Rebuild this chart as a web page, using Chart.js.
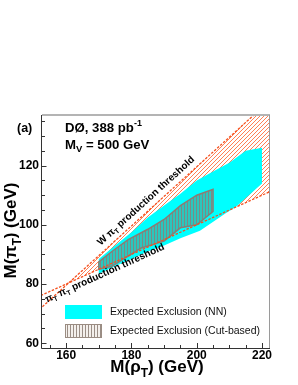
<!DOCTYPE html>
<html>
<head>
<meta charset="utf-8">
<script src="https://cdn.jsdelivr.net/npm/chart.js@4.4.0/dist/chart.umd.min.js"></script>
<style>
  html, body { margin: 0; padding: 0; background: #fff; }
  canvas { display: block; }
</style>
</head>
<body>
<canvas id="c" width="298" height="385"></canvas>
<script>
// axis ranges, GeV
const rhoRange = [152.6, 222.45];
const piRange = [58.4, 137.1];
const xTicks = [160, 180, 200, 220];
const yTicks = [60, 80, 100, 120];

// Expected exclusion (NN): upper edge then lower edge
const nnUpRho = [170, 175, 180, 185, 190, 195, 200, 205, 210, 215, 220];
const nnUpPi  = [88.5, 93, 97.5, 102.5, 106.5, 110.5, 115, 118, 121, 125, 126];
const nnLoRho = [220, 212, 209, 201, 195, 190, 185, 180, 175, 170];
const nnLoPi  = [114, 106, 104, 98, 95.5, 93, 91, 88.5, 86, 83.5];

// Expected exclusion (cut-based)
const cutUpRho = [170, 174, 179, 185, 190, 195, 200, 205];
const cutUpPi  = [87.5, 91, 95, 98.5, 101.8, 106.5, 110, 112];
const cutLoRho = [205, 200, 195, 190, 183, 179, 174, 170];
const cutLoPi  = [104.5, 100, 99, 94.5, 92.2, 89.4, 86, 85];

// production thresholds
const wThrRho = [150, 225];
const wThrPi  = [69.6, 144.6];
const ppThrRho = [150, 225];
const ppThrPi  = [75, 112.5];
// band between the two thresholds
const bandRho = [160.8, 225, 225];
const bandPi  = [80.4, 144.6, 112.5];

const FONT = '"Liberation Sans", Arial, Helvetica, sans-serif';
const canvas = document.getElementById('c');
const ctx0 = canvas.getContext('2d');

// pixel-exact hatch tiles (no antialiasing)
function hatch(color, size, diag, bg) {
  const c = document.createElement('canvas');
  c.width = size; c.height = size;
  const g = c.getContext('2d');
  if (bg) { g.fillStyle = bg; g.fillRect(0, 0, size, size); }
  g.fillStyle = color;
  for (let i = 0; i < size; i++) {
    if (diag) g.fillRect(i, size - 1 - i, 1, 1);
    else g.fillRect(1, i, 1, 1);
  }
  return ctx0.createPattern(c, 'repeat');
}
const redHatch = hatch('#ff8055', 4, true);
// cut-based hatch as it looks over the cyan NN area
const cutHatch = hatch('#7a8a86', 3, false, '#2cc6bd');
// legend swatch: same hatch on white
const cutHatchKey = hatch('#9a8e86', 3, false, '#f4f0ec');

const pts = (xs, ys) => xs.map((x, i) => ({ x: x, y: ys[i] }));
function ring(ux, uy, lx, ly) {
  const p = pts(ux, uy).concat(pts(lx, ly));
  p.push(p[0]);
  return p;
}

// text with sub/superscripts: parts = [text, size, yshift]
function rich(ctx, parts, x, y, weight, align) {
  let w = 0;
  parts.forEach(p => { ctx.font = `${weight} ${p[1]}px ${FONT}`; w += ctx.measureText(p[0]).width; });
  let cx = align === 'center' ? x - w / 2 : x;
  ctx.textAlign = 'left';
  ctx.textBaseline = 'alphabetic';
  parts.forEach(p => {
    ctx.font = `${weight} ${p[1]}px ${FONT}`;
    ctx.fillText(p[0], cx, y + (p[2] || 0));
    cx += ctx.measureText(p[0]).width;
  });
}

function alongLine(chart, xs, ys, rhoAt, parts, offset) {
  const sx = chart.scales.x, sy = chart.scales.y, ctx = chart.ctx;
  const x0 = sx.getPixelForValue(xs[0]), y0 = sy.getPixelForValue(ys[0]);
  const x1 = sx.getPixelForValue(xs[1]), y1 = sy.getPixelForValue(ys[1]);
  const ang = Math.atan2(y1 - y0, x1 - x0);
  const t = (rhoAt - xs[0]) / (xs[1] - xs[0]);
  ctx.save();
  ctx.translate(x0 + (x1 - x0) * t, y0 + (y1 - y0) * t);
  ctx.rotate(ang);
  ctx.fillStyle = '#000';
  rich(ctx, parts, 0, offset, 'bold');
  ctx.restore();
}

const decor = {
  id: 'decor',
  afterDatasetsDraw(chart) {
    const ctx = chart.ctx, a = chart.chartArea;
    const sx = chart.scales.x, sy = chart.scales.y;
    ctx.save();

    // frame
    ctx.strokeStyle = '#b4b4b4'; ctx.lineWidth = 2;
    ctx.beginPath(); ctx.moveTo(a.left, a.top); ctx.lineTo(a.right, a.top); ctx.stroke();
    ctx.strokeStyle = '#9a9a9a'; ctx.lineWidth = 1;
    ctx.beginPath(); ctx.moveTo(a.right - 0.5, a.top); ctx.lineTo(a.right - 0.5, a.bottom); ctx.stroke();
    ctx.strokeStyle = '#333';
    ctx.beginPath();
    ctx.moveTo(a.left - 0.5, a.top); ctx.lineTo(a.left - 0.5, a.bottom + 0.5);
    ctx.lineTo(a.right, a.bottom + 0.5);
    ctx.stroke();

    // ticks pointing inward
    ctx.beginPath();
    for (let v = 155; v <= 220; v += 5) {
      const px = Math.round(sx.getPixelForValue(v)) + 0.5;
      const len = xTicks.includes(v) ? 5 : 3;
      ctx.moveTo(px, a.bottom); ctx.lineTo(px, a.bottom - len);
    }
    for (let v = 60; v <= 135; v += 5) {
      const py = Math.round(sy.getPixelForValue(v)) + 0.5;
      const len = yTicks.includes(v) ? 4.5 : 3;
      ctx.moveTo(a.left, py); ctx.lineTo(a.left + len, py);
    }
    ctx.stroke();

    ctx.fillStyle = '#000';
    // axis titles
    rich(ctx, [['M(', 17], ['\u03C1', 17], ['T', 12, 5], [') (GeV)', 17]], (a.left + a.right) / 2 + 1, 372, 'bold', 'center');
    ctx.save();
    ctx.translate(16, (a.top + a.bottom) / 2 - 1);
    ctx.rotate(-Math.PI / 2);
    rich(ctx, [['M(', 17], ['\u03C0', 17], ['T', 12, 5], [') (GeV)', 17]], 0, 0, 'bold', 'center');
    ctx.restore();

    // annotations
    rich(ctx, [['(a)', 12.5]], 17, 132, 'bold');
    rich(ctx, [['D\u00D8, 388 pb', 13.2], ['-1', 9, -5.5]], 65, 131.5, 'bold');
    rich(ctx, [['M', 13.2], ['V', 9.5, 3.5], [' = 500 GeV', 13.2]], 65, 148.5, 'bold');

    // threshold labels
    alongLine(chart, wThrRho, wThrPi, 171.8,
      [['W ', 10], ['\u03C0', 10], ['T', 7, 2.5], [' production threshold', 10]], -6);
    alongLine(chart, ppThrRho, ppThrPi, 152.9,
      [['\u03C0', 10], ['T', 7, 2.5], [' \u03C0', 10], ['T', 7, 2.5], [' production threshold', 10]], 9);

    // legend
    const lx = a.left + 23;
    ctx.fillStyle = '#00ffff';
    ctx.fillRect(lx, 305, 37, 14);
    ctx.fillStyle = cutHatchKey;
    ctx.fillRect(lx, 324, 37, 14);
    ctx.strokeStyle = '#9a8c82'; ctx.lineWidth = 1;
    ctx.strokeRect(lx + 0.5, 324.5, 36, 13);
    ctx.fillStyle = '#111';
    ctx.font = `10.5px ${FONT}`;
    ctx.textAlign = 'left'; ctx.textBaseline = 'middle';
    ctx.fillText('Expected Exclusion (NN)', 110, 312.5);
    ctx.fillText('Expected Exclusion (Cut-based)', 110, 331.5);

    ctx.restore();
  }
};

new Chart(canvas, {
  type: 'line',
  data: {
    datasets: [
      { data: pts(wThrRho, wThrPi), borderColor: '#f5501e', borderWidth: 1.3, borderDash: [2.5, 1.5], fill: false },
      { data: pts(ppThrRho, ppThrPi), borderColor: '#f5501e', borderWidth: 1.3, borderDash: [2.5, 1.5], fill: false },
      { data: ring(cutUpRho, cutUpPi, cutLoRho, cutLoPi), borderColor: '#8c7c74', borderWidth: 1.5, backgroundColor: cutHatch, fill: 'shape' },
      { data: ring(nnUpRho, nnUpPi, nnLoRho, nnLoPi), borderColor: 'rgba(0,0,0,0)', borderWidth: 0, backgroundColor: '#00ffff', fill: 'shape' },
      { data: ring(bandRho, bandPi, [], []), borderColor: 'rgba(0,0,0,0)', borderWidth: 0, backgroundColor: redHatch, fill: 'shape' }
    ]
  },
  options: {
    responsive: false,
    devicePixelRatio: 1,
    animation: false,
    events: [],
    elements: { point: { radius: 0 }, line: { tension: 0 } },
    layout: { padding: { top: 115, right: 28, left: 0, bottom: 0 } },
    plugins: { legend: { display: false }, tooltip: { enabled: false } },
    scales: {
      x: {
        type: 'linear', min: rhoRange[0], max: rhoRange[1],
        grid: { display: false, drawTicks: false }, border: { display: false },
        afterBuildTicks: s => { s.ticks = xTicks.map(v => ({ value: v })); },
        afterFit: s => { s.height = 37; },
        ticks: { font: { family: FONT, size: 12, weight: 'bold' }, color: '#000', padding: 0, maxRotation: 0, autoSkip: false }
      },
      y: {
        type: 'linear', min: piRange[0], max: piRange[1],
        grid: { display: false, drawTicks: false }, border: { display: false },
        afterBuildTicks: s => { s.ticks = yTicks.map(v => ({ value: v })); },
        afterFit: s => { s.width = 42; },
        ticks: { font: { family: FONT, size: 12, weight: 'bold' }, color: '#000', padding: 3, autoSkip: false }
      }
    }
  },
  plugins: [decor]
});
</script>
</body>
</html>
